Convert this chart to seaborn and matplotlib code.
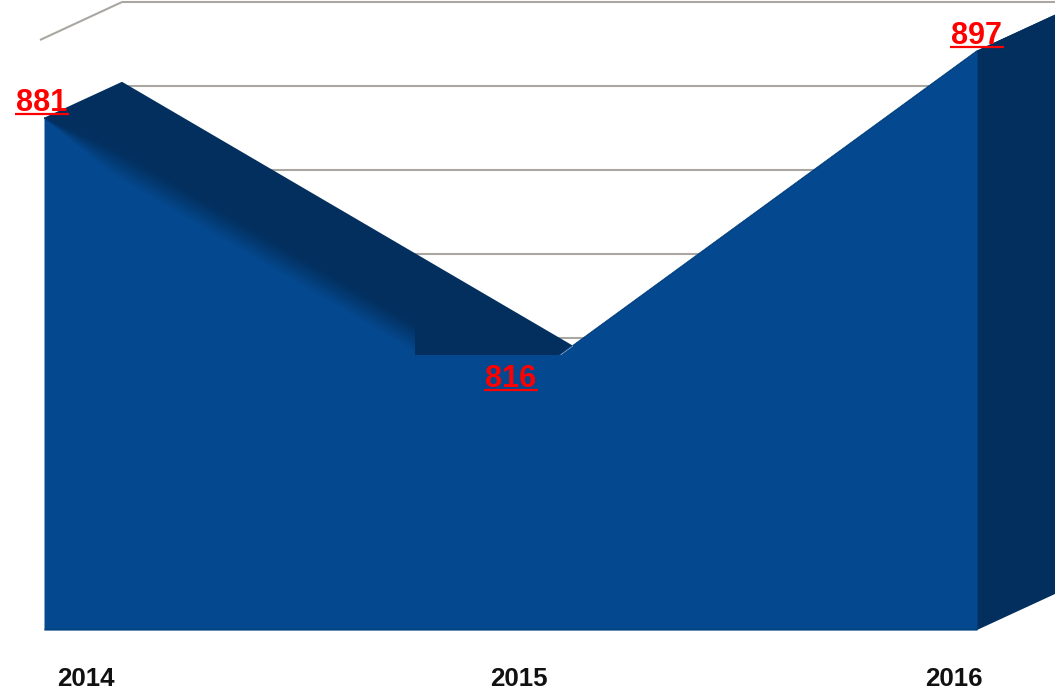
import numpy as np
import pandas as pd
import seaborn as sns
import matplotlib
matplotlib.use("Agg")
import matplotlib.pyplot as plt
from matplotlib.colors import to_rgb
from matplotlib.patches import Polygon, Rectangle
from matplotlib.transforms import Affine2D, ScaledTranslation, IdentityTransform

years = [2014, 2015, 2016]
values = [881, 816, 897]
grid_values = [900, 880, 860, 840, 820]
year_labels = ["2014", "2015", "2016"]

W, H, DPI = 1060, 693, 100
FRONT = "#04498f"
DARK = "#022f5e"
GRID = "#aaa6a2"
DX, DY = 78, 36  # depth of the 3D effect in pixels

sns.set_theme(style="white")
plt.rcParams["font.family"] = ["Liberation Sans", "DejaVu Sans"]

fig = plt.figure(figsize=(W / DPI, H / DPI), dpi=DPI, facecolor="white")
ax = fig.add_axes([44 / W, 1 - 630 / H, (977 - 44) / W, (630 - 38) / H])
ax.set_xlim(2014, 2016)
ax.set_ylim(759.05, 900)
ax.patch.set_alpha(0)
sns.despine(ax=ax, left=True, bottom=True, top=True, right=True)

df = pd.DataFrame({"year": years, "value": values})
px = Affine2D().scale(1 / W, -1 / H).translate(0, 1) + fig.transFigure
depth = ax.transData + Affine2D().translate(DX, DY)
disp = IdentityTransform()

# back wall gridlines, from the same data scale shifted by the depth
for g in grid_values:
    ax.plot([2014, 2016], [g, g], color=GRID, lw=1.5, transform=depth, clip_on=False, zorder=1,
            solid_capstyle="butt")
# left wall edge at the top value
top_left = ax.transData.transform((2014, grid_values[0]))
ax.add_patch(Polygon([top_left + [-4, -2], top_left + [DX, DY]], closed=False, fill=False,
                     edgecolor=GRID, lw=1.5, transform=disp, clip_on=False, zorder=1))

# depth band along the top edge, and the right side face
pts = ax.transData.transform(np.column_stack([years, values]))
shift = np.array([DX, DY])
band = np.vstack([pts, (pts + shift)[::-1]])
ax.add_patch(Polygon(band, closed=True, fc=DARK, ec="none", transform=disp, clip_on=False, zorder=2))
base_right = ax.transData.transform((2016, 759.05))
side = np.array([pts[-1], pts[-1] + shift, base_right + shift, base_right])
ax.add_patch(Polygon(side, closed=True, fc=DARK, ec="none", transform=disp, clip_on=False, zorder=2))

# front face
ax.fill_between(df["year"], df["value"], 759.05, color=FRONT, lw=0, zorder=3)
sns.lineplot(data=df, x="year", y="value", ax=ax, color=FRONT, lw=0.5, zorder=3, legend=False)
ax.set_xlabel("")
ax.set_ylabel("")
ax.set_ylim(759.05, 900)
ax.plot([2014, 2016], [759.05, 759.05], color="#03427f", lw=1, zorder=3.5, solid_capstyle="butt",
        transform=ax.transData + Affine2D().translate(0, 0.5), clip_on=False)

# soft blend of the band into the front face on the left slope (opaque layers, largest first)
p0 = pts[0]
slope = (pts[1] - pts[0])[1] / (pts[1] - pts[0])[0]
def edge(x, s):
    taper = min(1.0, (x - p0[0]) / 70.0)
    return np.array([x, p0[1] + slope * (x - p0[0]) + s * taper])
xs = [p0[0], p0[0] + 70, 415.0]
UP, DOWN, N = 10.0, 18.0, 28
c_front, c_dark = np.array(to_rgb(FRONT)), np.array(to_rgb(DARK))
for k in range(N + 1):
    t = k / N
    colour = c_front * (1 - t) + c_dark * t
    lower = UP - (UP + DOWN) * (1 - t)
    poly = [edge(x, UP) for x in xs] + [edge(x, lower) for x in xs[::-1]]
    ax.add_patch(Polygon(poly, closed=True, fc=colour, ec="none", transform=disp, zorder=3.6))

# retouched patch around the middle label in the reference
ax.add_patch(Rectangle((415, 322), 95, 33, fc=DARK, ec="none", transform=px, zorder=4))
ax.add_patch(Rectangle((415, 355), 156, 50, fc=FRONT, ec="none", transform=px, zorder=4))

# value labels with underline
offs = [(-2, 7), (0, 4), (0, 7)]
for y, v, (ox, oy) in zip(years, values, offs):
    ax.annotate(str(v), (y, v), xytext=(ox, oy), textcoords="offset pixels", ha="center", va="baseline",
                color="#ff0000", fontsize=22, fontweight="bold", zorder=6, annotation_clip=False)
    ax.plot([y], [v], marker="_", ms=39, mew=1.6, color="#ff0000", clip_on=False, zorder=6,
            transform=ax.transData + Affine2D().translate(ox, oy - 3.5))

# year labels
ax.set_yticks([])
ax.set_xticks(years, year_labels)
ax.tick_params(axis="x", length=0, pad=27, labelsize=18.6, labelcolor="#111111")
for lab, dx in zip(ax.get_xticklabels(), [42, 8, -23]):
    lab.set_fontweight("bold")
    lab.set_transform(lab.get_transform() + ScaledTranslation(dx / DPI, 0, fig.dpi_scale_trans))

fig.savefig("out.png", dpi=DPI, facecolor="white")
